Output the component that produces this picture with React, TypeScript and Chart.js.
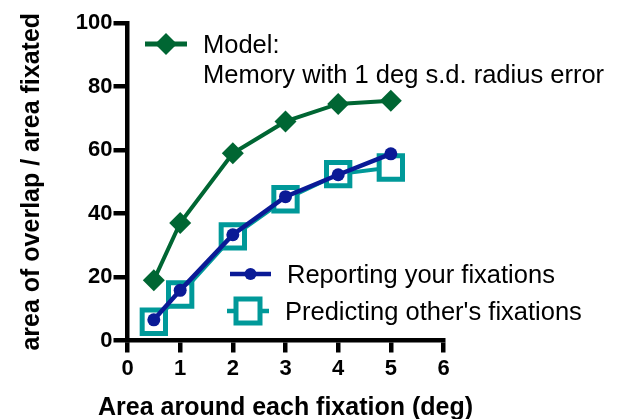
import React, { useEffect, useRef } from 'react';
import { Chart, registerables } from 'chart.js';

Chart.register(...registerables);

const xValues = [0.5, 1, 2, 3, 4, 5];
const modelValues = [19, 37, 59, 69, 74.5, 75.5];
const reportingValues = [6.5, 15.8, 33.3, 45.3, 52.2, 58.8];
const predictingValues = [5.9, 14.5, 32.8, 44.5, 52.4, 54.5];
const modelLabel = ['Model:', 'Memory with 1 deg s.d. radius error'];
const reportingLabel = 'Reporting your fixations';
const predictingLabel = "Predicting other's fixations";
const xTitle = 'Area around each fixation (deg)';
const yTitle = 'area of overlap / area fixated';

const GREEN = '#006633';
const BLUE = '#0A1A96';
const TEAL = '#009999';
const FONT = 'Arial, sans-serif';

const titlesPlugin = {
  id: 'axisTitles',
  afterDraw(chart: any) {
    const ctx = chart.ctx as CanvasRenderingContext2D;
    const area = chart.chartArea;
    ctx.save();
    ctx.font = `bold 25px ${FONT}`;
    ctx.fillStyle = '#000';
    ctx.textAlign = 'center';
    ctx.textBaseline = 'alphabetic';
    ctx.fillText(xTitle, (area.left + area.right) / 2, 415);
    ctx.translate(38.5, (area.top + area.bottom) / 2);
    ctx.rotate(-Math.PI / 2);
    ctx.fillText(yTitle, 0, 0);
    ctx.restore();
  },
};

const legendPlugin = {
  id: 'customLegend',
  afterDraw(chart: any) {
    const ctx = chart.ctx as CanvasRenderingContext2D;
    ctx.save();
    ctx.font = `25.5px ${FONT}`;
    ctx.fillStyle = '#000';
    ctx.textBaseline = 'alphabetic';
    ctx.textAlign = 'left';
    ctx.lineCap = 'butt';

    // Model
    ctx.strokeStyle = GREEN;
    ctx.lineWidth = 5;
    ctx.beginPath();
    ctx.moveTo(145, 44);
    ctx.lineTo(187, 44);
    ctx.stroke();
    ctx.fillStyle = GREEN;
    ctx.beginPath();
    ctx.moveTo(155, 44);
    ctx.lineTo(166, 33);
    ctx.lineTo(177, 44);
    ctx.lineTo(166, 55);
    ctx.closePath();
    ctx.fill();
    ctx.fillStyle = '#000';
    ctx.fillText(modelLabel[0], 203, 53);
    ctx.fillText(modelLabel[1], 203, 83);

    // Reporting
    ctx.strokeStyle = BLUE;
    ctx.lineWidth = 4.5;
    ctx.beginPath();
    ctx.moveTo(230, 274);
    ctx.lineTo(271, 274);
    ctx.stroke();
    ctx.fillStyle = BLUE;
    ctx.beginPath();
    ctx.arc(250.5, 274, 6, 0, Math.PI * 2);
    ctx.fill();
    ctx.fillStyle = '#000';
    ctx.fillText(reportingLabel, 287, 283);

    // Predicting
    ctx.strokeStyle = TEAL;
    ctx.lineWidth = 4.5;
    ctx.beginPath();
    ctx.moveTo(227, 311);
    ctx.lineTo(269, 311);
    ctx.stroke();
    ctx.fillStyle = '#fff';
    ctx.lineWidth = 5;
    ctx.fillRect(236, 299, 24, 24);
    ctx.strokeRect(236, 299, 24, 24);
    ctx.fillStyle = '#000';
    ctx.fillText(predictingLabel, 285, 320);

    ctx.restore();
  },
};

export default function App() {
  const ref = useRef<HTMLCanvasElement | null>(null);

  useEffect(() => {
    const canvas = ref.current;
    if (!canvas) return;
    document.body.style.margin = '0';
    const tickFont = { family: FONT, size: 22, weight: 'bold' as const };
    const chart = new Chart(canvas, {
      type: 'line',
      data: {
        datasets: [
          {
            label: reportingLabel,
            data: xValues.map((x, i) => ({ x, y: reportingValues[i] })),
            borderColor: BLUE,
            backgroundColor: BLUE,
            borderWidth: 4.5,
            pointStyle: 'circle',
            pointRadius: 6.5,
            pointBorderWidth: 0,
            pointBackgroundColor: BLUE,
            pointBorderColor: BLUE,
            tension: 0,
          },
          {
            label: predictingLabel,
            data: xValues.map((x, i) => ({ x, y: predictingValues[i] })),
            borderColor: TEAL,
            backgroundColor: '#fff',
            borderWidth: 4,
            pointStyle: 'rect',
            pointRadius: 16.5,
            pointBorderWidth: 5,
            pointBackgroundColor: '#fff',
            pointBorderColor: TEAL,
            tension: 0,
          },
          {
            label: modelLabel.join(' '),
            data: xValues.map((x, i) => ({ x, y: modelValues[i] })),
            borderColor: GREEN,
            backgroundColor: GREEN,
            borderWidth: 4,
            pointStyle: 'rectRot',
            pointRadius: 11,
            pointBorderWidth: 0,
            pointBackgroundColor: GREEN,
            pointBorderColor: GREEN,
            tension: 0,
          },
        ],
      },
      options: {
        animation: false,
        responsive: false,
        devicePixelRatio: 1,
        layout: { padding: { left: 0, top: 23, right: 181.5, bottom: 0 } },
        plugins: { legend: { display: false }, tooltip: { enabled: false } },
        scales: {
          x: {
            type: 'linear',
            min: 0,
            max: 6,
            afterFit: (s: any) => {
              s.height = 78.5;
            },
            ticks: { stepSize: 1, color: '#000', font: tickFont, padding: 3, maxRotation: 0 },
            grid: {
              drawOnChartArea: false,
              drawTicks: true,
              tickLength: 12,
              lineWidth: 4.5,
              tickWidth: 4.5,
              color: '#000',
              tickColor: '#000',
            },
            border: { display: true, color: '#000', width: 4.5 },
            title: { display: false },
          },
          y: {
            type: 'linear',
            min: 0,
            max: 100,
            afterFit: (s: any) => {
              s.width = 127.5;
            },
            ticks: { stepSize: 20, color: '#000', font: tickFont, padding: 1 },
            grid: {
              drawOnChartArea: false,
              drawTicks: true,
              tickLength: 14,
              lineWidth: 4.5,
              tickWidth: 4.5,
              color: '#000',
              tickColor: '#000',
            },
            border: { display: true, color: '#000', width: 4.5 },
            title: { display: false },
          },
        },
      },
      plugins: [titlesPlugin, legendPlugin],
    } as any);
    return () => chart.destroy();
  }, []);

  return (
    <div style={{ position: 'fixed', left: 0, top: 0, width: 625, height: 419, background: '#fff' }}>
      <canvas ref={ref} width={625} height={419} style={{ display: 'block' }} />
    </div>
  );
}
